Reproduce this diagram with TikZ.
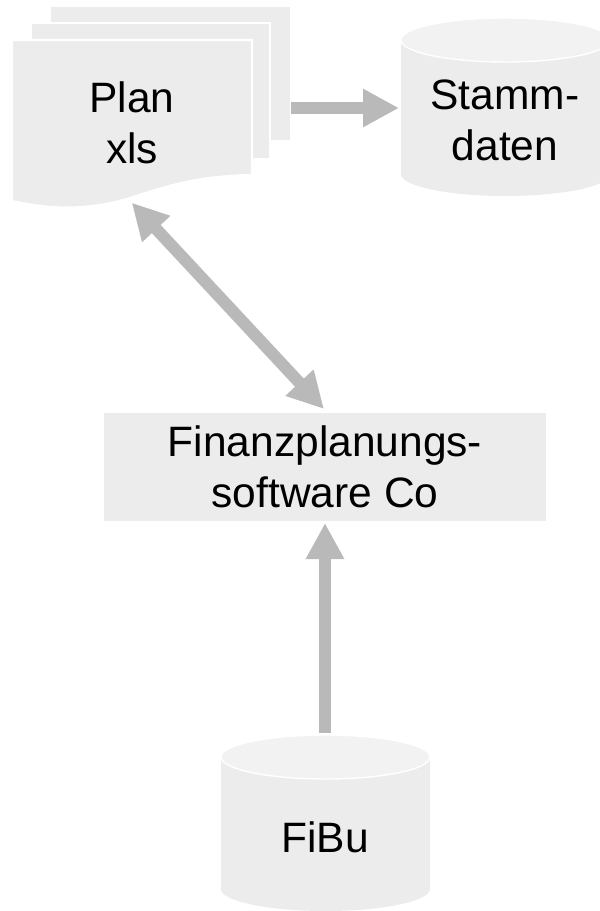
\documentclass[tikz,border=0pt]{standalone}
\usepackage{fontspec}
\usetikzlibrary{arrows.meta}
\setmainfont{Liberation Sans}
\definecolor{boxgray}{HTML}{ECECEC}
\definecolor{lidgray}{HTML}{F2F2F2}
\definecolor{arrowgray}{HTML}{B9B9B9}
\tikzset{
  shapefill/.style={fill=boxgray},
  pagesheet/.style={fill=boxgray,draw=white,line width=2.2pt},
  lid/.style={fill=lidgray,draw=white,line width=1.4pt},
  textlabel/.style={align=center,font=\fontsize{42.5}{51}\selectfont,text=black,inner sep=0pt},
  blockarrow/.style={draw=arrowgray,line width=12pt,-{Triangle[length=36pt,width=36pt]}},
  blockboth/.style={draw=arrowgray,line width=12pt,{Triangle[length=36pt,width=36pt]}-{Triangle[length=36pt,width=36pt]}}
}
\begin{document}
\begin{tikzpicture}[x=1pt,y=-1pt]
\useasboundingbox (0,0) rectangle (600,911);
\clip (0,0) rectangle (600,911);
% stacked pages
\fill[shapefill] (51,7) rectangle (290,140);
\filldraw[pagesheet] (31,23) rectangle (270,159);
\filldraw[pagesheet] (12,40) -- (252,40) -- (252,175)
  .. controls (195,176) and (165,187) .. (133,197)
  .. controls (100,208) and (60,212) .. (12,201) -- cycle;
\node[textlabel] (plan) at (132,123) {Plan\\xls};
% Stammdaten
\fill[shapefill] (401,40) -- (401,174) arc[start angle=180,end angle=0,x radius=104.5,y radius=22] -- (610,40) -- cycle;
\filldraw[lid] (505.5,40) ellipse[x radius=104.5,y radius=22];
\node[textlabel] (stamm) at (505,120.5) {Stamm-\\daten};
% FiBu
\fill[shapefill] (221,757) -- (221,889) arc[start angle=180,end angle=0,x radius=104.5,y radius=22] -- (430,757) -- cycle;
\filldraw[lid] (325.5,757) ellipse[x radius=104.5,y radius=22];
\node[textlabel] (fibu) at (325,837.5) {FiBu};
% Software
\node[fill=boxgray,minimum width=442pt,minimum height=108pt,outer sep=0pt,textlabel] (soft) at (325,466.5) {Finanzplanungs-\\software Co};
% arrow ends
\coordinate (planright) at (291,108);
\coordinate (stammleft) at (399,108);
\coordinate (fibutop) at (325,733);
\coordinate (softbottom) at (325,523);
\coordinate (planbottom) at (131.7,202.7);
\coordinate (softtop) at (324,409);
% arrows
\draw[blockarrow] (planright) -- (stammleft);
\draw[blockarrow] (fibutop) -- (softbottom);
\draw[blockboth] (planbottom) -- (softtop);
\end{tikzpicture}
\end{document}
